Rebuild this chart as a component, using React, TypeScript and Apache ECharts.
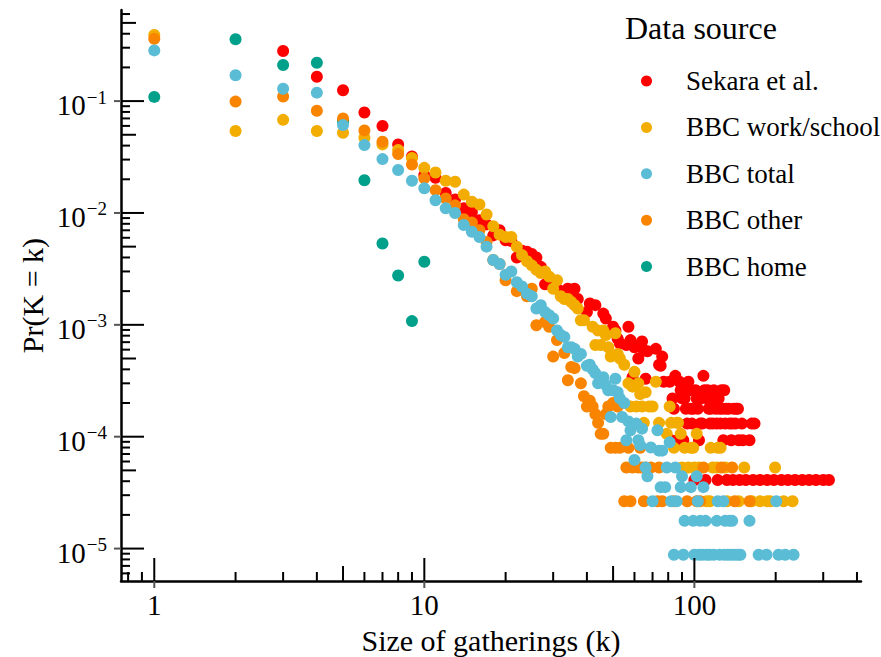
import React, { useEffect, useRef } from 'react';
import * as echarts from 'echarts';

const FONT = '"Liberation Serif", "Times New Roman", serif';

// ---- data (k = size of gathering, p = Pr(K = k)) ----
const sekara: [number, number][] = [
  [3, 0.28], [4, 0.165], [5, 0.125], [6, 0.079], [7, 0.06], [8, 0.041], [9, 0.032], [10, 0.0218],
  [11, 0.0206], [12, 0.0151], [13, 0.0132], [14, 0.011], [15, 0.0102], [16, 0.0086], [17, 0.0079],
  [18, 0.0063], [19, 0.007], [20, 0.0057], [21, 0.0056], [22, 0.004], [23, 0.0046], [24, 0.0045],
  [25, 0.0043], [26, 0.004], [27, 0.0033], [28, 0.0023], [29, 0.0023], [31, 0.0021], [32, 0.002],
  [34, 0.0021], [35, 0.002], [36, 0.0021], [37, 0.0017], [40, 0.0013], [41, 0.00155], [43, 0.0015],
  [46, 0.00126], [47, 0.00114], [50, 0.00096], [51, 0.00089], [52, 0.00075], [53, 0.00068],
  [56, 0.00066], [57, 0.00096], [58, 0.00073], [59, 0.00034], [60, 0.00063], [62, 0.0005],
  [63, 0.00066], [64, 0.00071], [65, 0.00059], [66, 0.00033], [67, 0.00058], [72, 0.00061],
  [74, 0.00044], [75, 0.00043], [76, 0.00052],
  [85, 0.00035], [108, 0.00035],
  [77, 0.00031], [81, 0.00031], [88, 0.00031], [95, 0.00031],
  [89, 0.00026], [96, 0.00026], [101, 0.00026], [109, 0.00026], [112, 0.00026], [118, 0.00026], [126, 0.00026], [129, 0.00026],
  [83, 0.00022], [90, 0.00022], [92, 0.00022], [102, 0.00022], [106, 0.00022], [111, 0.00022], [116, 0.00022], [123, 0.00022],
  [84, 0.000178], [93, 0.000178], [97, 0.000178], [99, 0.000178], [103, 0.000178], [113, 0.000178], [115, 0.000178],
  [120, 0.000178], [124, 0.000178], [127, 0.000178], [131, 0.000178], [134, 0.000178], [140, 0.000178], [143, 0.000178], [145, 0.000178],
  [94, 0.000131], [98, 0.000131], [105, 0.000131], [107, 0.000131], [114, 0.000131], [117, 0.000131], [121, 0.000131],
  [125, 0.000131], [130, 0.000131], [135, 0.000131], [138, 0.000131], [142, 0.000131], [150, 0.000131], [163, 0.000131], [167, 0.000131],
  [82, 0.000093], [87, 0.000093], [91, 0.000093], [104, 0.000093], [128, 0.000093], [137, 0.000093], [146, 0.000093], [151, 0.000093], [160, 0.000093],
  [100, 0.000041], [110, 0.000041], [122, 0.000041], [132, 0.000041], [139, 0.000041], [147, 0.000041], [155, 0.000041],
  [165, 0.000041], [175, 0.000041], [186, 0.000041], [197, 0.000041], [210, 0.000041], [222, 0.000041], [236, 0.000041],
  [251, 0.000041], [266, 0.000041], [282, 0.000041], [300, 0.000041], [315, 0.000041],
];

const workSchool: [number, number][] = [
  [1, 0.39], [2, 0.054], [3, 0.068], [4, 0.054], [5, 0.052], [6, 0.047], [7, 0.041], [8, 0.0365], [9, 0.031],
  [10, 0.0253], [11, 0.023], [12, 0.0194], [13, 0.019], [14, 0.0146], [15, 0.0126], [16, 0.0119], [17, 0.0097],
  [18, 0.0076], [19, 0.0064], [20, 0.0061], [21, 0.0061], [22, 0.005], [23, 0.0042], [24, 0.0037], [25, 0.0034],
  [26, 0.0031], [27, 0.0029], [28, 0.003], [29, 0.0027], [30, 0.0021], [31, 0.0025], [32, 0.0018], [33, 0.0017],
  [34, 0.0017], [35, 0.0016], [36, 0.0015], [37, 0.0014], [38, 0.0011], [39, 0.0011], [42, 0.00096], [43, 0.00066],
  [44, 0.00089], [45, 0.00066], [46, 0.00089], [47, 0.00081], [48, 0.00063], [49, 0.00052], [51, 0.00084],
  [52, 0.00055], [53, 0.0005], [55, 0.00044], [57, 0.0003], [58, 0.000186], [59, 0.00028], [60, 0.00038],
  [61, 0.000186], [62, 0.0003], [63, 0.00024], [64, 0.000186], [65, 0.000133], [66, 0.00025], [68, 0.000186],
  [70, 0.000186], [72, 0.00031], [74, 0.000133], [79, 0.000106], [81, 0.000186], [82, 0.000133], [84, 0.0000795],
  [86, 0.000133], [87, 0.000133], [89, 0.000106], [90, 0.000053], [92, 0.0000795], [95, 0.000053], [97, 0.0000795],
  [99, 0.0000795], [100, 0.000053], [102, 0.000106], [104, 0.000053], [111, 0.0000265], [114, 0.0000265],
  [115, 0.0000795], [117, 0.000053], [121, 0.000053], [122, 0.0000795], [125, 0.0000795], [130, 0.000053],
  [132, 0.0000265], [146, 0.0000265], [153, 0.000053], [163, 0.0000265], [175, 0.0000265], [186, 0.0000265],
  [191, 0.0000265], [199, 0.000053], [214, 0.0000265], [231, 0.0000265],
];

const bbcTotal: [number, number][] = [
  [1, 0.284], [2, 0.17], [3, 0.129], [4, 0.119], [5, 0.061], [6, 0.0404], [7, 0.0303], [8, 0.0242], [9, 0.0194],
  [10, 0.0166], [11, 0.013], [12, 0.011], [13, 0.01], [14, 0.0078], [15, 0.0068], [16, 0.0061], [17, 0.005],
  [18, 0.0038], [19, 0.0035], [20, 0.0028], [21, 0.003], [22, 0.0024], [23, 0.0022], [24, 0.0019], [25, 0.0018],
  [26, 0.0014], [27, 0.0015], [28, 0.0013], [29, 0.00122], [30, 0.00114], [31, 0.00089], [32, 0.00081],
  [33, 0.00078], [34, 0.00063], [35, 0.00063], [36, 0.00061], [37, 0.00052], [38, 0.00055], [40, 0.00043],
  [41, 0.00044], [42, 0.0004], [43, 0.00037], [44, 0.0003], [45, 0.00031], [46, 0.00034], [47, 0.00029],
  [48, 0.00026], [49, 0.00015], [50, 0.00026], [51, 0.00033], [52, 0.00025], [53, 0.00022], [54, 0.00015],
  [55, 0.0002], [56, 0.000093], [57, 0.000137], [58, 0.000114], [60, 0.000062], [61, 0.000131], [62, 0.000093],
  [63, 0.000084], [64, 0.000118], [66, 0.000053], [67, 0.0000442], [69, 0.00008], [70, 0.0000265], [73, 0.000114],
  [74, 0.000075], [75, 0.0000354], [76, 0.000075], [78, 0.0000354], [79, 0.000053], [81, 0.000089], [82, 0.0000265],
  [84, 0.0000088], [85, 0.000053], [86, 0.0000265], [89, 0.0000354], [90, 0.0000442], [91, 0.0000088],
  [92, 0.0000177], [97, 0.0000354], [99, 0.0000177], [100, 0.0000088], [102, 0.0000442], [103, 0.0000265],
  [104, 0.0000088], [105, 0.0000177], [107, 0.0000088], [108, 0.0000354], [110, 0.0000177], [111, 0.0000088],
  [114, 0.0000088], [118, 0.0000088], [121, 0.0000177], [122, 0.0000265], [124, 0.0000088], [128, 0.0000265],
  [129, 0.0000088], [130, 0.0000177], [133, 0.0000088], [135, 0.0000177], [137, 0.0000088], [138, 0.0000177],
  [141, 0.0000088], [145, 0.0000088], [148, 0.0000088], [160, 0.0000177], [173, 0.0000088], [185, 0.0000088],
  [201, 0.0000265], [205, 0.0000088], [217, 0.0000088], [233, 0.0000088],
];

const bbcOther: [number, number][] = [
  [1, 0.36], [2, 0.099], [3, 0.11], [4, 0.082], [5, 0.07], [6, 0.0547], [7, 0.0433], [8, 0.0336], [9, 0.0271],
  [10, 0.0204], [11, 0.016], [12, 0.0135], [13, 0.0117], [14, 0.0088], [15, 0.0082], [16, 0.007], [17, 0.0055],
  [18, 0.0038], [19, 0.0035], [20, 0.0025], [22, 0.002], [24, 0.0018], [25, 0.0021], [26, 0.00099], [28, 0.00106],
  [29, 0.00096], [30, 0.00052], [31, 0.00073], [33, 0.00056], [34, 0.00032], [35, 0.00042], [36, 0.00041],
  [38, 0.0003], [39, 0.00023], [40, 0.000186], [41, 0.00021], [42, 0.000186], [43, 0.000159], [44, 0.000133],
  [45, 0.000106], [46, 0.000106], [47, 0.000159], [48, 0.000186], [49, 0.0000795], [50, 0.0002], [51, 0.0000795],
  [52, 0.000186], [53, 0.0000795], [55, 0.0000265], [56, 0.000053], [57, 0.0000795], [58, 0.0000265],
  [59, 0.000053], [62, 0.000053], [63, 0.0000795], [64, 0.000053], [65, 0.0000265], [66, 0.000053],
  [69, 0.000053], [73, 0.0000265], [74, 0.000053], [76, 0.0000265], [84, 0.0000265], [94, 0.0000265],
  [102, 0.0000265], [105, 0.0000265], [108, 0.000053], [126, 0.000053], [138, 0.000053], [141, 0.0000265],
  [160, 0.0000265],
];

const bbcHome: [number, number][] = [
  [1, 0.109], [2, 0.357], [3, 0.21], [4, 0.22], [5, 0.066], [6, 0.0196], [7, 0.00533], [8, 0.00276],
  [9, 0.00108], [10, 0.00366],
];

// ---- axes ----
const X_MIN = 0.753;
const X_MAX = 414;
const Y_MIN = 5.13e-6;
const Y_MAX = 0.652;

const xMajorTicks = [1, 10, 100];
const xMidTicks = [5, 50];
const xMinorTicks = [0.8, 0.9, 2, 3, 4, 6, 7, 8, 9, 20, 30, 40, 60, 70, 80, 90, 200, 300, 400];
const yMajorTicks = [1e-5, 1e-4, 1e-3, 1e-2, 1e-1];
const yMidTicks = [5e-5, 5e-4, 5e-3, 5e-2, 5e-1];
const yMinorTicks = [
  6e-6, 7e-6, 8e-6, 9e-6,
  2e-5, 3e-5, 4e-5, 6e-5, 7e-5, 8e-5, 9e-5,
  2e-4, 3e-4, 4e-4, 6e-4, 7e-4, 8e-4, 9e-4,
  2e-3, 3e-3, 4e-3, 6e-3, 7e-3, 8e-3, 9e-3,
  2e-2, 3e-2, 4e-2, 6e-2, 7e-2, 8e-2, 9e-2,
  2e-1, 3e-1, 4e-1, 6e-1,
];

const COLORS = {
  sekara: '#FF0000',
  work: '#F2AD00',
  total: '#5BBCD6',
  other: '#F98400',
  home: '#00A08A',
};

const TICK_LEN = [23, 15, 9];

function tagged(major: number[], mid: number[], minor: number[]) {
  return [
    ...major.map((v) => [v, 0]),
    ...mid.map((v) => [v, 1]),
    ...minor.map((v) => [v, 2]),
  ];
}

function isPow10(v: number) {
  const l = Math.log10(v);
  return Math.abs(l - Math.round(l)) < 1e-6;
}

function scatter(name: string, data: [number, number][], color: string) {
  return {
    name,
    type: 'scatter',
    data,
    symbol: 'circle',
    symbolSize: 12,
    itemStyle: { color, opacity: 1 },
    emphasis: { disabled: true },
  };
}

export default function App() {
  const ref = useRef<HTMLDivElement>(null);

  useEffect(() => {
    const chart = echarts.init(ref.current as HTMLDivElement, null, { renderer: 'svg' });

    const xTickData = tagged(xMajorTicks, xMidTicks, xMinorTicks).map(([v, k]) => [v, Y_MIN, k]);
    const yTickData = tagged(yMajorTicks, yMidTicks, yMinorTicks).map(([v, k]) => [X_MIN, v, k]);

    const option: any = {
      animation: false,
      backgroundColor: '#fff',
      textStyle: { fontFamily: FONT },
      title: {
        text: 'Data source',
        left: 625,
        top: 12,
        padding: 0,
        textStyle: { fontFamily: FONT, fontSize: 32, fontWeight: 'normal', color: '#000' },
      },
      legend: {
        orient: 'vertical',
        left: 641,
        top: 66,
        padding: 0,
        itemWidth: 11,
        itemHeight: 11,
        itemGap: 16.4,
        icon: 'circle',
        data: ['Sekara et al.', 'BBC work/school', 'BBC total', 'BBC other', 'BBC home'],
        textStyle: { fontFamily: FONT, fontSize: 27, color: '#000', lineHeight: 30, padding: [0, 0, 0, 29] },
      },
      grid: { left: 121, right: 20, top: 10, bottom: 76, containLabel: false, outerBoundsMode: 'none' },
      xAxis: {
        type: 'log',
        logBase: 10,
        min: X_MIN,
        max: X_MAX,
        name: 'Size of gatherings (k)',
        nameLocation: 'middle',
        nameGap: 44,
        nameMoveOverlap: false,
        nameTextStyle: { fontFamily: FONT, fontSize: 30, color: '#000' },
        axisLine: { show: true, onZero: false, lineStyle: { color: '#000', width: 2.5 } },
        axisTick: { show: false },
        splitLine: { show: false },
        minorTick: { show: false },
        axisLabel: {
          margin: 9,
          fontFamily: FONT,
          fontSize: 29,
          color: '#000',
          showMinLabel: false,
          showMaxLabel: false,
          formatter: (v: number) => (isPow10(v) ? String(Math.round(v)) : ''),
        },
      },
      yAxis: {
        type: 'log',
        logBase: 10,
        min: Y_MIN,
        max: Y_MAX,
        name: 'Pr(K = k)',
        nameLocation: 'middle',
        nameGap: 74,
        nameMoveOverlap: false,
        nameTextStyle: { fontFamily: FONT, fontSize: 30, color: '#000' },
        axisLine: { show: true, onZero: false, lineStyle: { color: '#000', width: 2.5 } },
        axisTick: { show: false },
        splitLine: { show: false },
        minorTick: { show: false },
        axisLabel: {
          margin: 14,
          fontFamily: FONT,
          color: '#000',
          showMinLabel: false,
          showMaxLabel: false,
          formatter: (v: number) => {
            if (!isPow10(v)) return '';
            const e = Math.round(Math.log10(v));
            return `{b|10}{s|\u2212${Math.abs(e)}}`;
          },
          rich: {
            b: { fontFamily: FONT, fontSize: 29, color: '#000', lineHeight: 29, padding: [8, 0, 0, 0] },
            s: { fontFamily: FONT, fontSize: 19, color: '#000', lineHeight: 19, padding: [0, 0, 8, 1] },
          },
        },
      },
      series: [
        scatter('BBC home', bbcHome, COLORS.home),
        scatter('Sekara et al.', sekara, COLORS.sekara),
        scatter('BBC work/school', workSchool, COLORS.work),
        scatter('BBC other', bbcOther, COLORS.other),
        scatter('BBC total', bbcTotal, COLORS.total),
        {
          type: 'custom',
          coordinateSystem: 'cartesian2d',
          silent: true,
          clip: false,
          z: 10,
          data: xTickData,
          renderItem: (_p: any, api: any) => {
            const pt = api.coord([api.value(0), api.value(1)]);
            const kind = api.value(2);
            const len = TICK_LEN[kind];
            const children: any[] = [
              { type: 'line', shape: { x1: pt[0], y1: pt[1], x2: pt[0], y2: pt[1] - len }, style: { stroke: '#000', lineWidth: 2 } },
            ];
            if (kind === 0) {
              children.push({ type: 'line', shape: { x1: pt[0], y1: pt[1], x2: pt[0], y2: pt[1] + 7 }, style: { stroke: '#555', lineWidth: 2 } });
            }
            return { type: 'group', children };
          },
        },
        {
          type: 'custom',
          coordinateSystem: 'cartesian2d',
          silent: true,
          clip: false,
          z: 10,
          data: yTickData,
          renderItem: (_p: any, api: any) => {
            const pt = api.coord([api.value(0), api.value(1)]);
            const kind = api.value(2);
            const len = TICK_LEN[kind];
            const children: any[] = [
              { type: 'line', shape: { x1: pt[0], y1: pt[1], x2: pt[0] + len, y2: pt[1] }, style: { stroke: '#000', lineWidth: 2 } },
            ];
            if (kind === 0) {
              children.push({ type: 'line', shape: { x1: pt[0], y1: pt[1], x2: pt[0] - 7, y2: pt[1] }, style: { stroke: '#555', lineWidth: 2 } });
            }
            return { type: 'group', children };
          },
        },
      ],
    };

    chart.setOption(option);
    return () => chart.dispose();
  }, []);

  return (
    <div
      ref={ref}
      style={{ position: 'fixed', left: 0, top: 0, width: 881, height: 657, background: '#fff' }}
    />
  );
}
